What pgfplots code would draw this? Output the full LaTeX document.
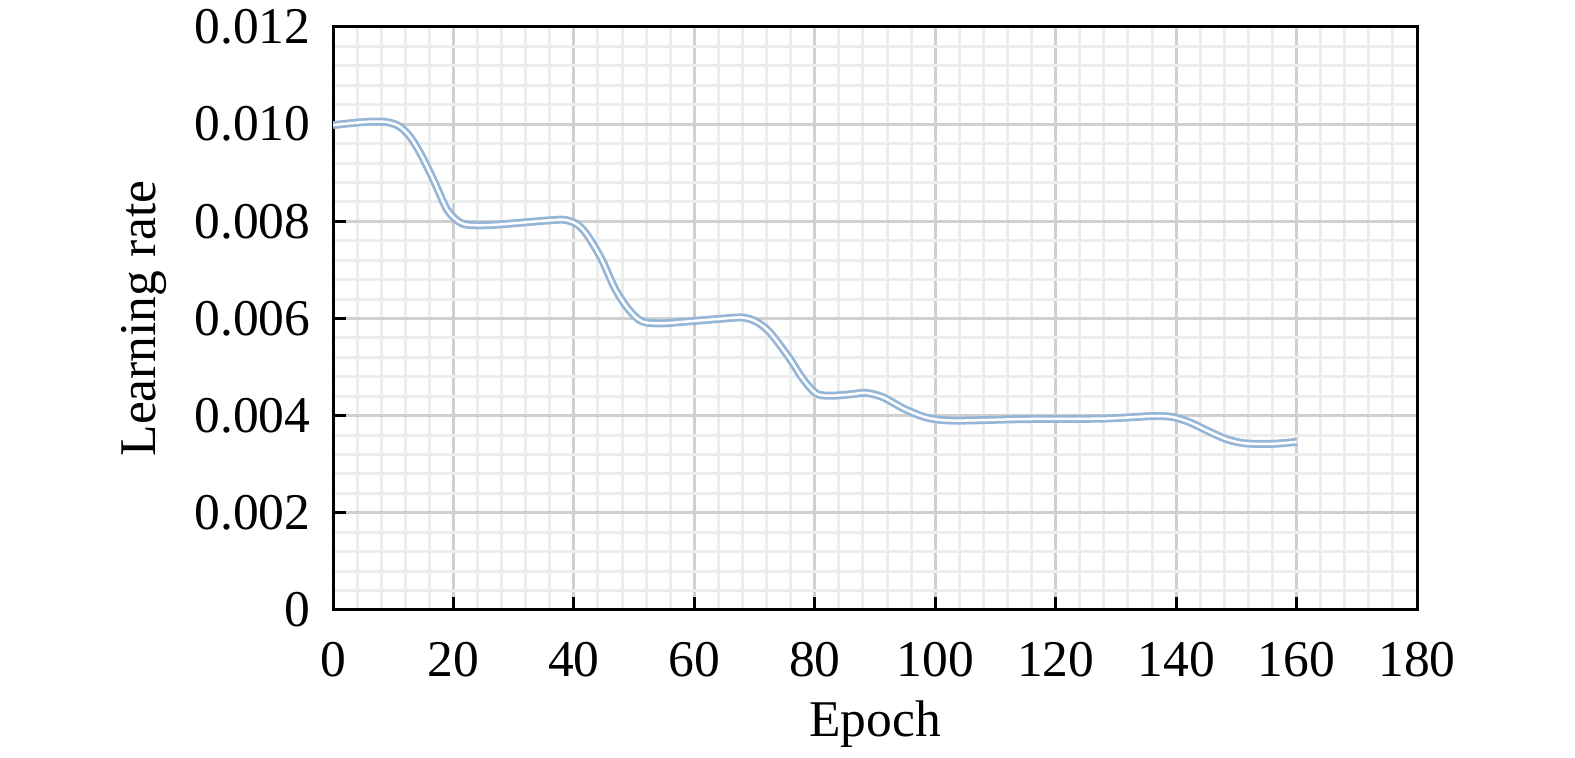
\documentclass[border=0pt]{standalone}
\usepackage{fontspec}
\setmainfont{Liberation Serif}
\usepackage{pgfplots}
\pgfplotsset{compat=1.18}
\definecolor{lrblue}{RGB}{150,182,216}
\begin{document}
\begin{tikzpicture}
\useasboundingbox (0,0) rectangle (315pt,151.6pt);
\begin{axis}[
    at={(66.6pt,29.6pt)}, anchor=south west,
    scale only axis,
    width=216.8pt, height=116.6pt,
    xmin=0, xmax=180, ymin=0, ymax=0.012,
    xtick={0,20,...,180},
    ytick={0,0.002,...,0.012},
    yticklabels={0,0.002,0.004,0.006,0.008,0.010,0.012},
    scaled y ticks=false,
    minor x tick num=4, minor y tick num=4,
    tick pos=left, tick align=inside,
    major tick length=2.6pt, minor tick length=0pt,
    every tick/.style={black, line width=0.6pt},
    grid=both,
    major grid style={gray!37, line width=0.6pt},
    minor grid style={gray!14, line width=0.6pt},
    axis line style={black, line width=0.6pt},
    font=\fontsize{10.3}{12}\selectfont,
    /pgf/number format/assume math mode=true,
    xticklabel style={yshift=-3pt},
    yticklabel style={xshift=-1pt},
    xlabel={Epoch},
    ylabel={Learning rate},
    xlabel style={at={(axis description cs:0.5,-0.2178)}, anchor=base},
    ylabel style={at={(axis description cs:-0.1642,0.5)}, anchor=base},
]
\addplot[draw=lrblue, line width=0.55pt, double=white, double distance=0.5pt, smooth] coordinates {
(0,0.00998) (3,0.01002) (6,0.01005) (8.5,0.01005) (10,0.01001)
(11.2,0.00994) (12.8,0.00974) (14.5,0.0094) (16.7,0.00885) (19,0.00823)
(21.2,0.00797) (23.4,0.00792) (27,0.00793) (32,0.00798) (36,0.00802)
(38.5,0.00803) (40.5,0.00794) (42.2,0.00772) (44.6,0.00722)
(46.8,0.00662) (49,0.00620) (51.3,0.00594) (54.6,0.00590) (60,0.00595)
(65,0.00600) (68,0.00602) (70.2,0.00594) (72.5,0.00572) (75.8,0.00518)
(78,0.00476) (80.2,0.00446) (82.5,0.00441) (86,0.00444) (88.5,0.00447)
(91.3,0.00438) (94.7,0.00415) (98,0.00398) (101,0.00391) (105,0.00390)
(115,0.00393) (128,0.00394) (136,0.00399) (139.5,0.00397) (142.5,0.00385)
(145.5,0.00367) (148.5,0.00351) (151.5,0.00343) (156,0.00342) (160,0.00346)
};
\end{axis}
\end{tikzpicture}
\end{document}
